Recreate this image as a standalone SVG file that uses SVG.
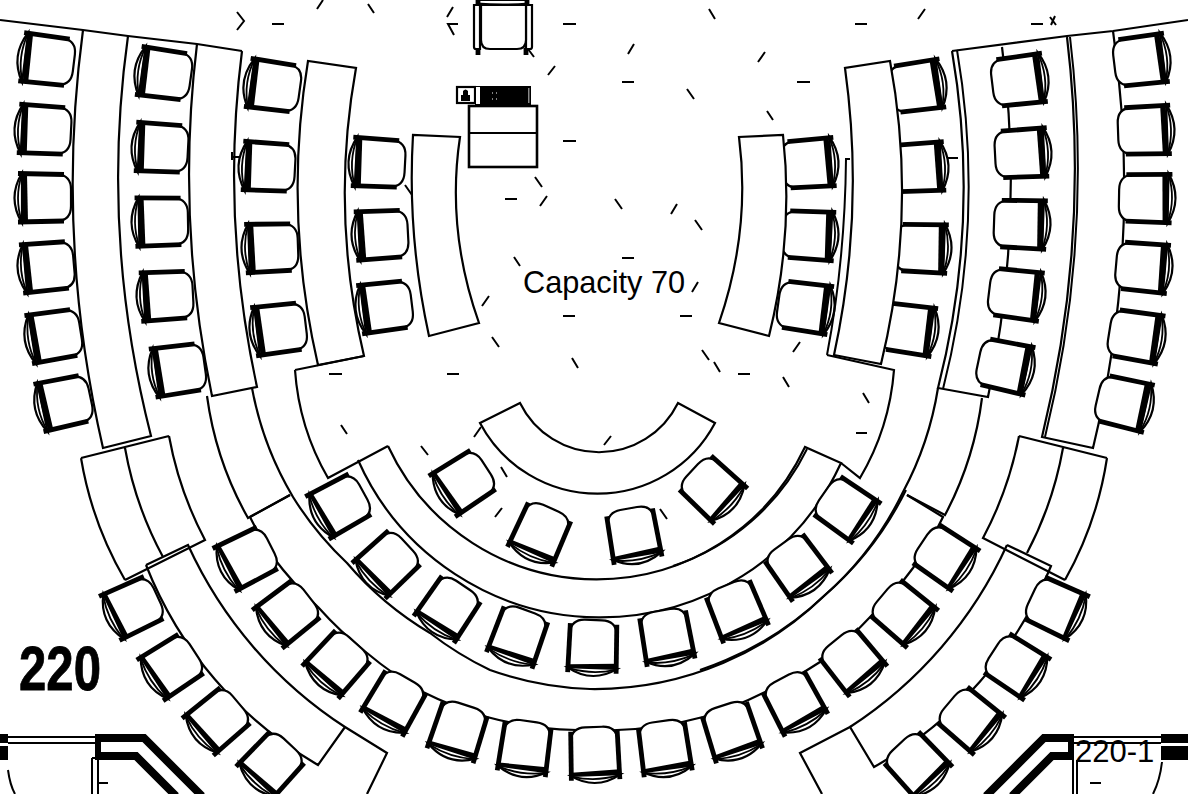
<svg xmlns="http://www.w3.org/2000/svg" width="1188" height="794" viewBox="0 0 1188 794">
<style>
.l{fill:none;stroke:#000;stroke-width:2.200;stroke-linejoin:miter}
.d{fill:#fff;stroke:#000;stroke-width:2.200}
.t{fill:none;stroke:#000;stroke-width:1.800}
.m{fill:none;stroke:#000;stroke-width:2}
.w{fill:none;stroke:#000;stroke-width:8;stroke-linejoin:miter}
.s{fill:#fff;stroke:#000;stroke-width:2.200}
.b{fill:none;stroke:#000;stroke-width:4.800;stroke-linecap:butt}
.k{fill:#000}
text{fill:#000}
</style>
<defs>
<g id="c">
<path class="s" d="M-21,-25 Q-36,0 -21,25 Z"/>
<path class="t" d="M-21,-24 Q-29,0 -21,24"/>
<path class="s" d="M-19,-24 L15,-24 Q28,-22 28,-9 L28,8 Q28,22 15,23 L-19,24 Z"/>
<path class="b" d="M-25,-24.500 L21,-23.500"/>
<path class="b" d="M-25,24 L21,23"/>
<path class="k" d="M-21,-24 L-16,-24 L-15,24 L-20,24 Q-23,0 -21,-24 Z"/>
</g>
<g id="e">
<path class="s" d="M-20,-25 Q-36,0 -20,25 Z"/>
<path class="t" d="M-21,-23 Q-27,0 -21,23"/>
<path class="s" d="M-19,-24 L15,-24 Q28,-22 28,-9 L28,8 Q28,22 15,23 L-19,24 Z"/>
<path class="b" d="M-25,-24.500 L24,-23.500"/>
<path class="b" d="M-25,24 L24,23"/>
<path class="k" d="M-20,-24 L-17,-24 L-15,24 L-20,24 Z"/>
</g>
</defs>
<rect width="1188" height="794" fill="#fff"/>

<!-- top wall -->
<path class="l" d="M0,20 L83,30 L128,36 L197,44 L242,51"/>
<path class="l" d="M952,51 L1067,36 L1113,31 L1188,20"/>

<!-- desks under chairs -->
<g>
<path class="l" d="M83,30 Q55,239 103,448 L151,436 Q100,236 128,36"/>
<path class="l" d="M197,44 Q175.500,220 212,396 L257,387 Q220.500,219 242,51"/>
<path class="l" d="M308,61 Q283,213 318,365 L364,356 Q330,212 356,68 Z"/>
<path class="l" d="M952,51 Q981,220 938,388 L988,397 Q1025,220 1002,47"/>
<path class="m" d="M957,50 Q986,220 943,389"/>
<path class="l" d="M1067,37 Q1091,237 1042,437 L1093,448 Q1143,240 1113,31"/>
<path class="m" d="M1070,37 Q1094,237 1045,437"/>
<path class="m" d="M232,152 V160 M232,157 H241 M948,158 H958"/>

<path class="l" d="M81,458 L169,436 M125,448 A360,360 0 0 0 163,557 M81,458 A360,360 0 0 0 125,580 M169,436 A360,360 0 0 0 205,540 L125,580"/>
<path class="l" d="M1107,458 L1019,436 M1063,448 A360,360 0 0 1 1027,553 M1107,458 A360,360 0 0 1 1065,580 M1019,436 A360,360 0 0 1 983,538 L1065,580"/>
<path class="l" d="M207,396 A340,340 0 0 0 248,518 L290,495"/>
<path class="l" d="M982,398 A340,340 0 0 1 945,515 L907,495"/>
<path class="l" d="M252,388 A330,330 0 0 0 293,497 A330,330 0 0 0 347,563 A330,330 0 0 0 430,633 A330,330 0 0 0 490,670 A330,330 0 0 0 590,689 A330,330 0 0 0 723,663 A330,330 0 0 0 823,597 A330,330 0 0 0 903,492 A330,330 0 0 0 938,388"/>
<path class="m" d="M700,670 A330,330 0 0 0 726,660 A330,330 0 0 0 826,594 A330,330 0 0 0 906,490"/>
<path class="l" d="M250,517 L290,495 M250,517 A380,380 0 0 0 273,557 A380,380 0 0 0 318,607 A380,380 0 0 0 367,653 A380,380 0 0 0 423,692 A380,380 0 0 0 487,717 A380,380 0 0 0 577,730 A380,380 0 0 0 617,730 A380,380 0 0 0 703,717 A380,380 0 0 0 763,693 A380,380 0 0 0 820,662 A380,380 0 0 0 872,615 A380,380 0 0 0 913,568 A380,380 0 0 0 943,517 L907,495"/>
<path class="l" d="M146,565 L188,545 A430,430 0 0 0 345,727 L387,753 L367,794"/>
<path class="l" d="M146,565 A400,400 0 0 0 318,765 L345,727"/>
<path class="l" d="M1007,545 L1051,566 A400,400 0 0 1 874,767 L850,727 L800,753 L822,794"/>
<path class="l" d="M1007,545 A430,430 0 0 1 850,727"/>
<path class="l" d="M295,370 L364,356 M295,370 A250,250 0 0 0 328,478 L388,446"/>
<path class="l" d="M827,355 L894,370 A250,250 0 0 1 860,478 L841,463"/>
<path class="l" d="M388,446 A230,230 0 0 0 805,447 L841,463 A265,265 0 0 1 358,460"/>
<path class="m" d="M673,566 A230,230 0 0 0 807,449"/>
<path class="d" d="M520,403 A88,88 0 0 0 678,403 L715,423 A133,133 0 0 1 480,423 Z"/>
</g>

<!-- chairs -->
<g>
<use href="#c" transform="translate(46 60) rotate(7)"/>
<use href="#c" transform="translate(43 130) rotate(3)"/>
<use href="#c" transform="translate(43 198)"/>
<use href="#c" transform="translate(46 267) rotate(-5)"/>
<use href="#c" transform="translate(53 336) rotate(-9)"/>
<use href="#c" transform="translate(63 403) rotate(-12)"/>
<use href="#c" transform="translate(163 74) rotate(8)"/>
<use href="#c" transform="translate(160 148) rotate(3)"/>
<use href="#c" transform="translate(160 222) rotate(-1)"/>
<use href="#c" transform="translate(165 296) rotate(-3)"/>
<use href="#c" transform="translate(177 370) rotate(-8)"/>
<use href="#c" transform="translate(272 86) rotate(8)"/>
<use href="#c" transform="translate(267 167) rotate(3)"/>
<use href="#c" transform="translate(270 248) rotate(-2)"/>
<use href="#c" transform="translate(278 329) rotate(-7)"/>
<use href="#c" transform="translate(377 163) rotate(3)"/>
<use href="#c" transform="translate(380 235) rotate(-3)"/>
<use href="#c" transform="translate(384 307) rotate(-7)"/>
<use href="#c" transform="translate(810 163) rotate(176)"/>
<use href="#c" transform="translate(810 235) rotate(183)"/>
<use href="#c" transform="translate(806 307) rotate(188)"/>
<use href="#c" transform="translate(918 86) rotate(172)"/>
<use href="#c" transform="translate(920 167) rotate(177)"/>
<use href="#c" transform="translate(923 248) rotate(182)"/>
<use href="#c" transform="translate(910 329) rotate(188)"/>
<use href="#c" transform="translate(1020 80) rotate(173)"/>
<use href="#c" transform="translate(1023 153) rotate(177)"/>
<use href="#c" transform="translate(1022 224) rotate(182)"/>
<use href="#c" transform="translate(1017 294) rotate(187)"/>
<use href="#c" transform="translate(1006 366) rotate(192)"/>
<use href="#c" transform="translate(1142 60) rotate(173)"/>
<use href="#c" transform="translate(1146 130) rotate(178)"/>
<use href="#c" transform="translate(1147 198) rotate(181)"/>
<use href="#c" transform="translate(1144 267) rotate(185)"/>
<use href="#c" transform="translate(1137 336) rotate(189)"/>
<use href="#c" transform="translate(1125 403) rotate(193)"/>

<use href="#e" transform="translate(463 483) rotate(-33)"/>
<use href="#e" transform="translate(540 534) rotate(-66)"/>
<use href="#e" transform="translate(634 536) rotate(-100)"/>
<use href="#e" transform="translate(713 489) rotate(-137)"/>

<use href="#e" transform="translate(339 506) rotate(-29)"/>
<use href="#e" transform="translate(387 564) rotate(-43)"/>
<use href="#e" transform="translate(448 609) rotate(-56)"/>
<use href="#e" transform="translate(518 637) rotate(-70)"/>
<use href="#e" transform="translate(593 648) rotate(-88)"/>
<use href="#e" transform="translate(667 638) rotate(-100)"/>
<use href="#e" transform="translate(737 611) rotate(-112)"/>
<use href="#e" transform="translate(798 567) rotate(-126)"/>
<use href="#e" transform="translate(847 509) rotate(-145)"/>

<use href="#e" transform="translate(246 559) rotate(-27)"/>
<use href="#e" transform="translate(287 614) rotate(-38)"/>
<use href="#e" transform="translate(337 664) rotate(-48)"/>
<use href="#e" transform="translate(394 703) rotate(-60)"/>
<use href="#e" transform="translate(458 732) rotate(-72)"/>
<use href="#e" transform="translate(525 749) rotate(-82)"/>
<use href="#e" transform="translate(595 755) rotate(-92)"/>
<use href="#e" transform="translate(665 749) rotate(-98)"/>
<use href="#e" transform="translate(732 732) rotate(-108)"/>
<use href="#e" transform="translate(795 703) rotate(-118)"/>
<use href="#e" transform="translate(853 662) rotate(-129)"/>
<use href="#e" transform="translate(904 613) rotate(-140)"/>
<use href="#e" transform="translate(946 557) rotate(-146)"/>

<use href="#e" transform="translate(132 608) rotate(-25)"/>
<use href="#e" transform="translate(171 667) rotate(-33)"/>
<use href="#e" transform="translate(217 721) rotate(-40)"/>
<use href="#e" transform="translate(271 765) rotate(-47)"/>
<use href="#e" transform="translate(1057 608) rotate(-155)"/>
<use href="#e" transform="translate(1017 666) rotate(-147)"/>
<use href="#e" transform="translate(971 720) rotate(-140)"/>
<use href="#e" transform="translate(918 765) rotate(-133)"/>
</g>

<!-- desks over chairs -->
<g>
<path class="d" d="M413,135 Q407,235 429,336 L479,323 Q446,230 460,137 Z"/>
<path class="d" d="M739,137 Q751,230 719,323 L769,336 Q794,235 783,135 Z"/>
<path class="d" d="M845,68 Q865,212 834,355 L881,364 Q918,212 890,61 Z"/>
<path class="m" d="M850,159 H846 Q845,260 827,355"/>
</g>

<!-- lectern chair -->
<g>
<path class="d" d="M474,5 H480 V49 H476 Q474,49 474,47 Z"/>
<path class="d" d="M526,5 H532 V47 Q532,49 530,49 H526 Z"/>
<path class="d" d="M481,5 H526 V40 Q526,49 517,49 H490 Q481,49 481,40 Z"/>
<path class="b" d="M478,48 V55 M526,48 V55 M478,0 V6 M527,0 V6"/>
<path class="m" d="M477,3.500 Q503,5.500 529,3.500 M477,0 H529"/>
</g>

<!-- lectern and equipment -->
<g>
<rect x="469" y="106" width="68" height="61" fill="#fff" stroke="#000" stroke-width="2.600"/>
<path class="l" d="M469,133 H537" stroke-width="2.600"/>
<rect x="457" y="87" width="18" height="16" fill="#fff" stroke="#000" stroke-width="2.200"/>
<path class="k" d="M461,101 V95 H463 V91 Q465.500,88 468,91 V95 H470 V101 Z"/>
<rect x="475" y="86" width="56" height="19" fill="#000"/>
<rect x="476" y="87" width="4" height="17" fill="#fff"/>
<rect x="528" y="88" width="1.500" height="15" fill="#888"/>
<path d="M492,93 h1 M496,93 h1 M492,99 h1 M496,99 h1" stroke="#fff" stroke-width="1" fill="none"/>
</g>

<!-- floor marks -->
<path class="m" d="M272,24 H284 M563,24 H576 M622,82 H634 M563,141 H576 M505,199 H517 M622,258 H634 M797,82 H810 M855,24 H867 M1031,24 H1043 M329,374 H342 M447,374 H459 M563,316 H575 M680,316 H692 M738,374 H750 M856,433 H867"/>
<path class="m" d="M237,12 L244,21 L237,30 M458,24 H448 L454,35 M447,17 L453,7"/>
<path class="m" d="M317,9 L323,0 M368,4 L374,13 M709,9 L715,19 M628,54 L634,44 M548,75 L555,66 M687,89 L694,99 M758,62 L765,52 M767,111 L773,120 M535,177 L542,187 M540,206 L547,196 M615,199 L622,209 M671,214 L677,204 M695,220 L702,230 M514,257 L520,266 M528,49 L534,57 M405,185 L412,195 M918,19 L925,9 M1050,17 L1056,25 M1055,16 L1051,25 M482,306 L489,296 M492,337 L499,347 M572,358 L578,368 M702,350 L709,360 M714,362 L720,372 M793,352 L800,342 M783,377 L789,387 M863,393 L869,403 M341,425 L347,434 M421,446 L428,455 M474,437 L481,427 M604,445 L611,436 M501,467 L507,477 M495,517 L502,508 M660,509 L667,519 M692,292 L698,282"/>

<!-- walls -->
<g>
<path class="w" d="M96,738 H144 L202,796"/>
<path class="w" d="M96,756 H136 L176,796"/>
<rect class="k" x="95" y="734" width="6" height="26"/>
<rect class="k" x="0" y="734" width="8" height="9"/>
<rect class="k" x="0" y="746" width="8" height="14"/>
<path class="m" d="M8,737 H96 M8,743 H96"/>
<path class="m" d="M92,758 V794 M98,758 V794 M92,758 H96 M98,783 H108 M8,770 Q10,785 15,794"/>
<path class="w" d="M1073,738 H1044 L986,796"/>
<path class="w" d="M1073,756 H1052 L1012,796"/>
<rect class="k" x="1068" y="734" width="6" height="26"/>
<rect class="k" x="1161" y="734" width="27" height="9"/>
<rect class="k" x="1161" y="746" width="27" height="14"/>
<path class="m" d="M1073,737 H1161 M1073,743 H1161"/>
<path class="m" d="M1073,760 V794 M1077,760 V794 M1090,783 H1101 M1162,762 Q1160,780 1153,794"/>
</g>

<text x="523" y="293" font-family="'Liberation Sans',Arial,sans-serif" font-size="30.700">Capacity 70</text>
<text x="19" y="690" font-family="'Liberation Sans',Arial,sans-serif" font-size="63" font-weight="700" textLength="82" lengthAdjust="spacingAndGlyphs" stroke="#000" stroke-width="0.800">220</text>
<text x="1075" y="762" font-family="'Liberation Sans',Arial,sans-serif" font-size="31">220-1</text>
</svg>
